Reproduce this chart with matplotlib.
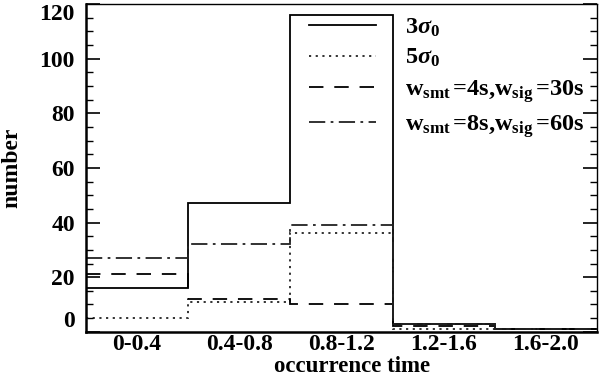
import matplotlib
matplotlib.use("Agg")
import matplotlib.pyplot as plt
from matplotlib.ticker import MultipleLocator
import numpy as np

categories = ["0-0.4", "0.4-0.8", "0.8-1.2", "1.2-1.6", "1.6-2.0"]
sigma3 = [16, 47, 116, 3, 1]
sigma5 = [5, 11, 36, 1, 1]
w4_30 = [21, 12, 10, 2, 1]
w8_60 = [27, 32, 39, 3, 1]
yticks = [0, 20, 40, 60, 80, 100, 120]

plt.rcParams["font.family"] = ["Liberation Serif", "DejaVu Serif"]
plt.rcParams["font.weight"] = "bold"
plt.rcParams["mathtext.fontset"] = "custom"
plt.rcParams["mathtext.rm"] = "Liberation Serif:bold"
plt.rcParams["mathtext.bf"] = "Liberation Serif:bold"
plt.rcParams["mathtext.it"] = "Liberation Serif:italic:bold"

fig = plt.figure(figsize=(6, 3.75), dpi=100)
ax = fig.add_axes([86/600, 1-331.8/375, (597-86)/600, (331.8-4)/375])

edges = np.arange(len(categories) + 1)
ax.stairs(sigma3, edges, baseline=None, color="black", lw=1.3, linestyle="-", label=r"3$\sigma_0$")
ax.stairs(sigma5, edges, baseline=None, color="#222222", lw=1.3, linestyle=(0, (1.2, 2.5)), label=r"5$\sigma_0$")
ax.stairs(w4_30, edges, baseline=None, color="black", lw=1.3, linestyle=(0, (8, 6)), label=r"w$_{\mathbf{smt}}\,$=4s,w$_{\mathbf{sig}}\,$=30s")
ax.stairs(w8_60, edges, baseline=None, color="#222222", lw=1.3, linestyle=(0, (9, 3, 1.5, 3)), label=r"w$_{\mathbf{smt}}\,$=8s,w$_{\mathbf{sig}}\,$=60s")

ax.set_xlim(0, len(categories))
ax.set_ylim(0, 120)
ax.set_xticks(np.arange(len(categories)) + 0.5)
ax.set_xticklabels(categories, fontsize=17, fontweight="bold")
ax.tick_params(axis="x", length=0, pad=1.5)
ax.set_yticks(yticks)
ax.set_yticklabels([str(v) for v in yticks], fontsize=17, fontweight="bold")
ax.yaxis.set_minor_locator(MultipleLocator(5))
ax.tick_params(axis="y", which="major", direction="in", length=10, width=1.2, right=True, pad=8)
ax.tick_params(axis="y", which="minor", direction="in", length=5, width=1.0, right=True)
ylabs = ax.get_yticklabels()
ylabs[0].set_va("bottom")
ylabs[-1].set_va("top")

for s in ["left", "bottom"]:
    ax.spines[s].set_linewidth(1.8)
for s in ["top", "right"]:
    ax.spines[s].set_linewidth(1.0)

ax.set_ylabel("number", fontsize=17, fontweight="bold")
ax.yaxis.set_label_coords(-0.125, 0.5)
ax.set_xlabel("occurrence time", fontsize=16.5, fontweight="bold")
ax.xaxis.set_label_coords(0.52, -0.074)

leg = ax.legend(loc="upper left", bbox_to_anchor=((298-86)/511, 0.995), frameon=False,
                fontsize=17.5, handlelength=2.75, handletextpad=1.2, labelspacing=0.34,
                borderaxespad=0.05)
for t in leg.get_texts():
    t.set_fontweight("bold")

fig.savefig("out.png", dpi=100)
